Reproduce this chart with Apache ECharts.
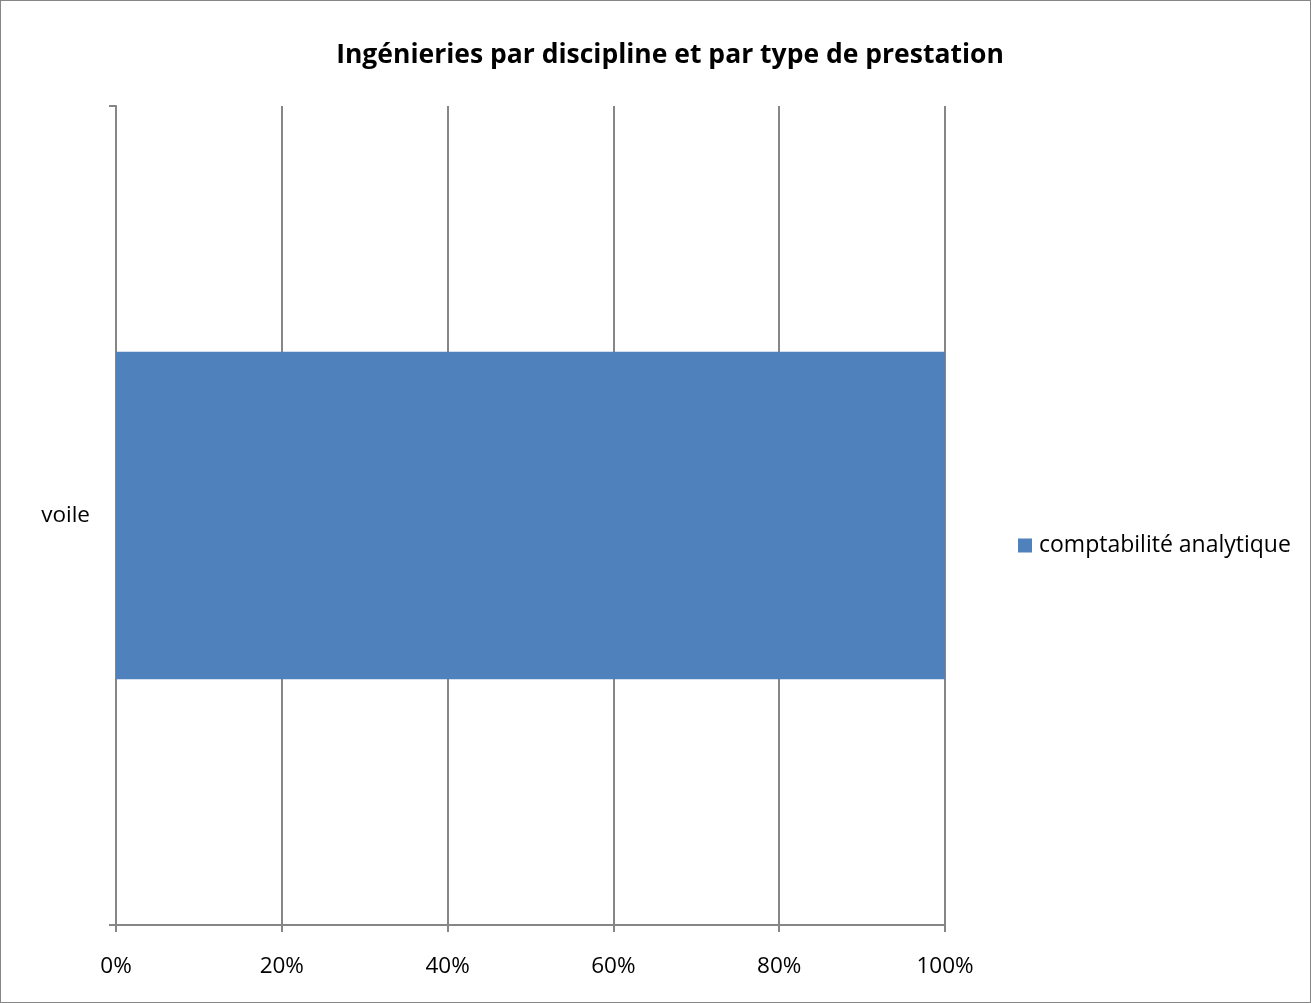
<!DOCTYPE html>
<html>
<head>
<meta charset="utf-8">
<script src="https://cdn.jsdelivr.net/npm/echarts@6/dist/echarts.min.js"></script>
<style>
html,body{margin:0;padding:0;background:#fff;}
#frame{position:absolute;left:0;top:0;width:1309px;height:1001px;border:1px solid #868686;}
#chart{position:absolute;left:0;top:0;width:1311px;height:1003px;}
</style>
</head>
<body>
<div id="frame"></div>
<div id="chart"></div>
<script>
const categories = ['voile'];
const seriesName = 'comptabilité analytique';
const seriesValues = [1];
const tickLabels = ['0%', '20%', '40%', '60%', '80%', '100%'];

const chart = echarts.init(document.getElementById('chart'));
const FONT = '"Open Sans"';
chart.setOption({
  animation: false,
  title: {
    text: 'Ingénieries par discipline et par type de prestation',
    left: 665, top: 37, textAlign: 'center',
    textStyle: {fontFamily: FONT, fontSize: 26.5, fontWeight: 'bold', color: '#000'}
  },
  legend: {
    left: 1018, top: 534, orient: 'vertical', padding: 0,
    itemWidth: 14, itemHeight: 14, itemGap: 5,
    icon: 'rect',
    textStyle: {fontFamily: FONT, fontSize: 23, color: '#000', padding: [0,0,0,2]},
    data: [seriesName]
  },
  grid: {left: 116, top: 106, width: 829, height: 819, containLabel: false},
  xAxis: {
    type: 'value', min: 0, max: 1, interval: 0.2,
    axisLine: {show: true, lineStyle: {color: '#868686', width: 2}},
    axisTick: {show: true, length: 7, lineStyle: {color: '#868686', width: 2}},
    axisLabel: {
      margin: 30, fontFamily: FONT, fontSize: 22.5, color: '#000',
      formatter: (v) => tickLabels[Math.round(v / 0.2)]
    },
    splitLine: {show: true, lineStyle: {color: '#868686', width: 2}}
  },
  yAxis: {
    type: 'category', data: categories,
    axisLine: {show: true, lineStyle: {color: '#868686', width: 2}},
    axisTick: {show: true, length: 7, lineStyle: {color: '#868686', width: 2}},
    axisLabel: {margin: 26, fontFamily: FONT, fontSize: 22.5, color: '#000'}
  },
  series: [{
    name: seriesName, type: 'bar', data: seriesValues,
    barCategoryGap: '60%',
    itemStyle: {color: '#4F81BD'}
  }]
});
</script>
</body>
</html>
